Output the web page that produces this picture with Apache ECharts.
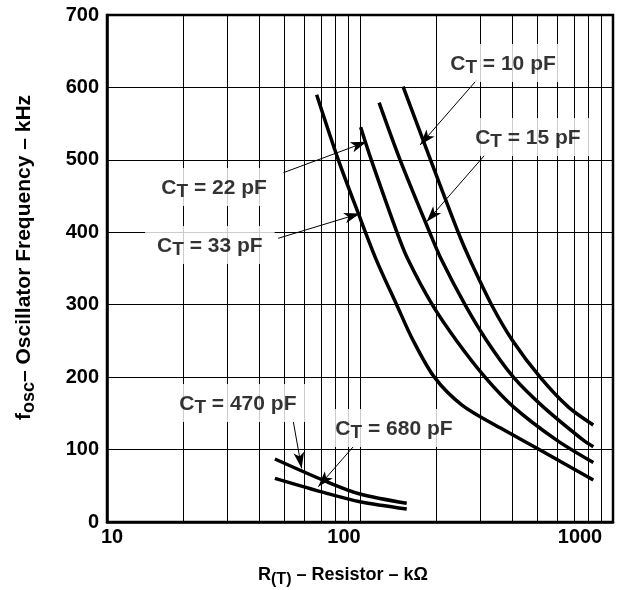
<!DOCTYPE html>
<html>
<head>
<meta charset="utf-8">
<script src="https://cdn.jsdelivr.net/npm/echarts@6/dist/echarts.min.js"></script>
<style>html,body{margin:0;padding:0;background:#fff}#c{width:637px;height:590px}</style>
</head>
<body>
<div id="c"></div>
<script>
// Resistor values (kΩ) and oscillator frequency (kHz) for each timing capacitor
const r10 = [148, 190, 245, 272, 331, 400, 515, 665, 836];
const f10 = [601, 500, 399, 362, 300, 251, 200, 159, 134];
const r15 = [119, 144, 189, 210, 260, 316, 404, 530, 763, 836];
const f15 = [579, 500, 399, 362, 300, 251, 200, 159, 113, 104];
const r22 = [100.6, 110.8, 140, 155, 193, 240, 312, 404, 599, 836];
const f22 = [545, 500, 400, 362, 300, 251, 200, 159, 113, 82];
const r33 = [67.4, 82.1, 98.5, 116, 139.6, 162, 196.7, 253, 358, 515, 836];
const f33 = [590, 500, 426, 362, 300, 251, 200, 161.5, 130, 99.4, 58];
const r470 = [46.1, 73.9, 100, 153];
const f470 = [87, 55.6, 38.6, 25.8];
const r680 = [46.1, 73.9, 100, 153];
const f680 = [60.3, 39.6, 28, 18];

// Axis ticks
const xMajor = [10, 100, 1000];
const xMinor = [20, 30, 40, 50, 60, 70, 80, 90, 200, 300, 400, 500, 600, 700, 800, 900];
const yTicks = [0, 100, 200, 300, 400, 500, 600, 700];

// Annotation labels and arrows
const labelNames = ['10', '15', '22', '33', '470', '680'];
const labelR = [367.5, 461, 26.5, 25.5, 32.9, 136.2];
const labelF = [633.7, 531.6, 462.5, 382.4, 164.3, 129.8];
const arrowFromR = [289, 312, 49.8, 47.5, 54.5, 94.1];
const arrowFromF = [610, 507, 482.3, 391.7, 138.5, 104];
const arrowToR = [172.7, 183.4, 106.3, 100, 58.8, 68.4];
const arrowToF = [520.5, 414.6, 525, 426, 74, 48.7];

const FONT = '"Liberation Sans", Arial, Helvetica, sans-serif';
const zip = (a, b) => a.map((v, i) => [v, b[i]]);

function curve(name, r, f) {
  return {
    name: name, type: 'line', data: zip(r, f), smooth: 0.3,
    showSymbol: false, symbol: 'none', z: 3, silent: true,
    lineStyle: { color: '#000', width: 3.5 }
  };
}

const chart = echarts.init(document.getElementById('c'), null, { renderer: 'canvas' });
chart.setOption({
  animation: false,
  backgroundColor: '#fff',
  grid: {
    left: 107, top: 15, right: 24, bottom: 68, outerBoundsMode: 'none', containLabel: false,
    show: true, borderColor: '#000', borderWidth: 2.5, backgroundColor: 'transparent'
  },
  xAxis: {
    type: 'log', logBase: 10, min: xMajor[0], max: xMajor[xMajor.length - 1],
    name: '{b|R}{s|(T)}{b| – Resistor – kΩ}', nameLocation: 'middle', nameGap: 42,
    nameTextStyle: {
      padding: [0, 34, 0, 0],
      rich: {
        b: { fontFamily: FONT, fontWeight: 'bold', fontSize: 18, color: '#000', lineHeight: 22 },
        s: { fontFamily: FONT, fontWeight: 'bold', fontSize: 16, color: '#000', padding: [9, 0, 0, 0], lineHeight: 22 }
      }
    },
    axisLine: { show: true, lineStyle: { color: '#000', width: 2.5 } },
    axisTick: { show: false },
    splitLine: { show: true, lineStyle: { color: '#000', width: 1 } },
    axisLabel: {
      margin: 5,
      formatter: function (v) {
        if (v === xMajor[0]) return '{l|' + v + '}';
        if (v === xMajor[1]) return '{m|' + v + '}';
        return '{r|' + v + '}';
      },
      rich: {
        l: { fontFamily: FONT, fontWeight: 'bold', fontSize: 20, color: '#000', padding: [0, 0, 0, 10] },
        m: { fontFamily: FONT, fontWeight: 'bold', fontSize: 20, color: '#000', padding: [0, 32, 0, 0] },
        r: { fontFamily: FONT, fontWeight: 'bold', fontSize: 20, color: '#000', padding: [0, 66, 0, 0] }
      }
    }
  },
  yAxis: {
    type: 'value', min: yTicks[0], max: yTicks[yTicks.length - 1], interval: 100,
    name: '{b|f}{s|osc}{b|– Oscillator Frequency – kHz}', nameLocation: 'middle', nameGap: 71, nameRotate: 90,
    nameTextStyle: {
      padding: [0, 0, 0, 22],
      rich: {
        b: { fontFamily: FONT, fontWeight: 'bold', fontSize: 21, color: '#000', lineHeight: 24 },
        s: { fontFamily: FONT, fontWeight: 'bold', fontSize: 18, color: '#000', padding: [10, 0, 0, 0], lineHeight: 24 }
      }
    },
    axisLine: { show: true, lineStyle: { color: '#000', width: 2.5 } },
    axisTick: { show: false },
    splitLine: { show: true, lineStyle: { color: '#000', width: 1 } },
    axisLabel: { margin: 8, fontFamily: FONT, fontWeight: 'bold', fontSize: 20, color: '#000' }
  },
  series: [
    {
      name: 'minor-grid', type: 'line', data: [], z: 1, silent: true,
      markLine: {
        silent: true, symbol: ['none', 'none'], label: { show: false }, animation: false,
        lineStyle: { color: '#000', width: 1, type: 'solid' },
        data: xMinor.map(v => ({ xAxis: v }))
      }
    },
    curve('10 pF', r10, f10),
    curve('15 pF', r15, f15),
    curve('22 pF', r22, f22),
    curve('33 pF', r33, f33),
    curve('470 pF', r470, f470),
    curve('680 pF', r680, f680),
    {
      name: 'arrows', type: 'line', data: [], z: 4, silent: true,
      markLine: {
        silent: true, symbol: ['none', 'arrow'], symbolSize: [8, 16], animation: false,
        label: { show: false },
        lineStyle: { color: '#000', width: 1, type: 'solid' },
        data: arrowFromR.map((r, i) => [{ coord: [r, arrowFromF[i]] }, { coord: [arrowToR[i], arrowToF[i]] }])
      }
    },
    {
      name: 'labels', type: 'scatter', z: 6, silent: true, symbolSize: 0,
      data: labelNames.map((n, i) => ({ value: [labelR[i], labelF[i]], name: n })),
      label: {
        show: true, position: 'inside', backgroundColor: '#fff', padding: [8, 12, 6, 12],
        formatter: p => '{c|C}{t|T}{c| = ' + p.name + ' pF}',
        rich: {
          c: { fontFamily: FONT, fontWeight: 'bold', fontSize: 21, color: '#000', lineHeight: 24 },
          t: { fontFamily: FONT, fontWeight: 'bold', fontSize: 19, color: '#000', padding: [8, 0, 0, 0], lineHeight: 24 }
        }
      }
    }
  ]
});
</script>
</body>
</html>
